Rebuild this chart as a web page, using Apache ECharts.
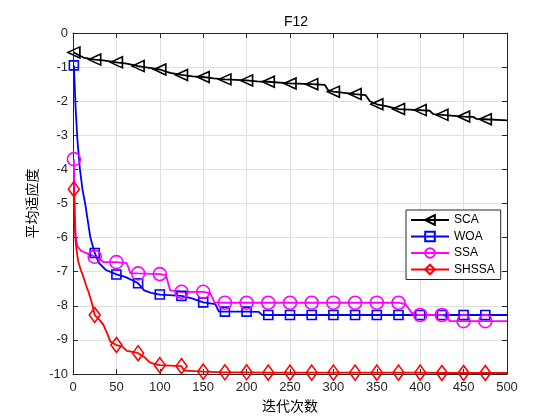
<!DOCTYPE html>
<html><head><meta charset="utf-8">
<script src="https://cdn.jsdelivr.net/npm/echarts@6/dist/echarts.min.js"></script>
<style>html,body{margin:0;padding:0;background:#fff}#c{width:560px;height:420px}</style>
</head><body><div id="c"></div>
<script>
const titleText = 'F12';
const xName = '迭代次数';
const yName = '平均适应度';
const xTicks = [0,50,100,150,200,250,300,350,400,450,500];
const yTicks = [0,-1,-2,-3,-4,-5,-6,-7,-8,-9,-10];
const markerIters = [1,25,50,75,100,125,150,175,200,225,250,275,300,325,350,375,400,425,450,475];

const scaIter = [1,12,25,35,50,62,75,88,100,112,125,138,150,162,175,200,212,225,250,275,290,294,300,325,337,342,350,362,375,400,411,415,425,450,461,465,475,500];
const scaVal  = [-0.57,-0.72,-0.78,-0.80,-0.86,-0.90,-0.97,-1.02,-1.07,-1.17,-1.23,-1.27,-1.29,-1.33,-1.36,-1.39,-1.42,-1.43,-1.48,-1.50,-1.52,-1.68,-1.72,-1.79,-1.82,-2.00,-2.09,-2.15,-2.23,-2.26,-2.28,-2.38,-2.40,-2.45,-2.46,-2.52,-2.53,-2.56];

const woaIter = [1,3,5,8,11,14,17,20,25,30,38,50,60,70,75,82,90,100,125,137,150,164,168,175,200,214,218,225,250,275,300,325,350,375,400,425,450,475,500];
const woaVal  = [-0.95,-2.2,-3.1,-4.0,-4.6,-5.0,-5.5,-6.0,-6.45,-6.75,-6.95,-7.08,-7.15,-7.27,-7.34,-7.55,-7.62,-7.67,-7.71,-7.78,-7.90,-7.95,-8.17,-8.17,-8.17,-8.18,-8.27,-8.27,-8.27,-8.27,-8.27,-8.27,-8.27,-8.27,-8.27,-8.27,-8.27,-8.27,-8.27];

const ssaIter = [1,2,3,5,9,15,25,30,35,50,62,66,75,100,107,112,125,150,158,163,175,200,225,250,275,300,325,350,375,383,390,395,400,425,430,434,450,475,500];
const ssaVal  = [-3.7,-5.2,-5.95,-6.25,-6.38,-6.45,-6.56,-6.6,-6.72,-6.72,-6.75,-7.04,-7.05,-7.07,-7.1,-7.55,-7.59,-7.59,-7.63,-7.9,-7.91,-7.91,-7.91,-7.91,-7.91,-7.91,-7.91,-7.91,-7.91,-7.95,-8.2,-8.27,-8.27,-8.27,-8.3,-8.45,-8.45,-8.45,-8.45];

const shssaIter = [1,2,3,4,6,9,12,15,18,21,23,25,30,35,40,43,50,57,62,70,75,82,88,95,100,125,128,150,175,200,225,250,275,300,325,350,375,400,425,450,475,500];
const shssaVal  = [-4.58,-5.6,-6.1,-6.35,-6.7,-6.95,-7.15,-7.4,-7.6,-7.85,-8.05,-8.27,-8.4,-8.55,-8.85,-9.05,-9.15,-9.2,-9.32,-9.36,-9.39,-9.5,-9.65,-9.72,-9.74,-9.77,-9.9,-9.93,-9.95,-9.95,-9.96,-9.96,-9.96,-9.96,-9.96,-9.96,-9.96,-9.96,-9.97,-9.97,-9.97,-9.97];

function mk(name, iters, vals, color, symbol, size, rotate) {
  const data = iters.map((x, i) => markerIters.includes(x)
    ? [x, vals[i]]
    : { value: [x, vals[i]], symbol: 'none' });
  return {
    name, type: 'line', data, symbol, symbolSize: size, symbolRotate: rotate || 0,
    showSymbol: true, showAllSymbol: true, animation: false,
    color: color,
    lineStyle: { color: color, width: 1.8 },
    itemStyle: { color: 'rgba(255,255,255,0)', borderColor: color, borderWidth: 1.6 },
    emphasis: { disabled: true }
  };
}

const font = 'Liberation Sans, Arial, Helvetica, sans-serif';
const chart = echarts.init(document.getElementById('c'));
const axisCommon = {
  type: 'value',
  axisLine: { show: true, onZero: false, lineStyle: { color: '#262626', width: 1 } },
  axisTick: { show: true, inside: true, length: 5, lineStyle: { color: '#262626' } },
};
chart.setOption({
  backgroundColor: '#fff',
  animation: false,
  title: { text: titleText, left: 291, top: 10, textAlign: 'center',
    textStyle: { fontFamily: font, fontSize: 14, fontWeight: 'normal', color: '#000' } },
  grid: { left: 73, right: 53, top: 33, bottom: 46, containLabel: false },
  legend: {
    orient: 'vertical', left: 406, top: 210, itemWidth: 38, itemHeight: 12, itemGap: 4.5,
    backgroundColor: '#fff', borderColor: '#262626', borderWidth: 1, padding: [4, 6, 4, 4],
    textStyle: { fontFamily: font, fontSize: 12, color: '#000' },
    data: ['SCA','WOA','SSA','SHSSA']
  },
  xAxis: [
    Object.assign({}, axisCommon, { position: 'bottom', min: 0, max: 500, interval: 50,
      name: xName, nameLocation: 'middle', nameGap: 25,
      nameTextStyle: { fontFamily: 'Noto Sans CJK SC', fontSize: 14, color: '#000' },
      axisLabel: { fontFamily: font, fontSize: 13, color: '#262626', margin: 7 },
      splitLine: { show: true, lineStyle: { color: '#e0e0e0', width: 1 } } }),
    Object.assign({}, axisCommon, { position: 'top', min: 0, max: 500, interval: 50,
      axisLabel: { show: false }, splitLine: { show: false } })
  ],
  yAxis: [
    Object.assign({}, axisCommon, { position: 'left', min: -10, max: 0, interval: 1,
      name: yName, nameLocation: 'middle', nameGap: 27, nameRotate: 90,
      nameTextStyle: { fontFamily: 'Noto Sans CJK SC', fontSize: 14, color: '#000' },
      axisLabel: { fontFamily: font, fontSize: 13, color: '#262626', margin: 5 },
      splitLine: { show: true, lineStyle: { color: '#e0e0e0', width: 1 } } }),
    Object.assign({}, axisCommon, { position: 'right', min: -10, max: 0, interval: 1,
      axisLabel: { show: false }, splitLine: { show: false } })
  ],
  series: [
    mk('SCA', scaIter, scaVal, '#000000', 'triangle', [11, 12], 90),
    mk('WOA', woaIter, woaVal, '#0000ff', 'rect', 9),
    mk('SSA', ssaIter, ssaVal, '#ff00ff', 'circle', 13),
    mk('SHSSA', shssaIter, shssaVal, '#ff0000', 'diamond', [11, 15])
  ]
});
</script></body></html>
